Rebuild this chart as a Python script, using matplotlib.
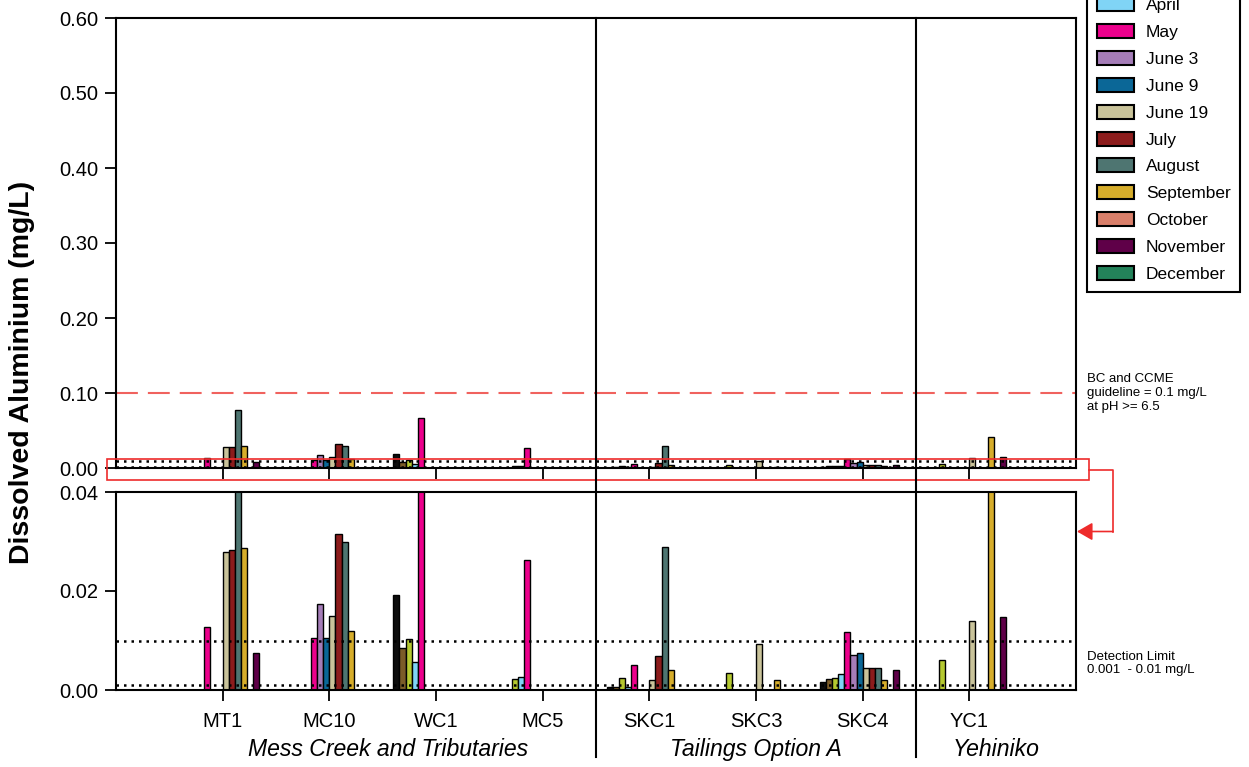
import numpy as np
import matplotlib
matplotlib.use('Agg')
from matplotlib import pyplot as plt
from matplotlib import transforms
from matplotlib.patches import Patch, Rectangle, FancyArrowPatch
from matplotlib.lines import Line2D

plt.rcParams['font.family'] = ['Liberation Sans', 'DejaVu Sans']

nan = np.nan

## Stations and sampling events ##
stations = ['MT1', 'MC10', 'WC1', 'MC5', 'SKC1', 'SKC3', 'SKC4', 'YC1']
events = ['January', 'February', 'March', 'April', 'May', 'June 3', 'June 9',
          'June 19', 'July', 'August', 'September', 'October', 'November', 'December']
colours = ['#0d0d0d', '#7b5c28', '#b5c930', '#80d4f6', '#ec008c', '#a57db8', '#0b6797',
           '#c9c39a', '#8c1c1c', '#4e7571', '#d6ad2b', '#d97f6a', '#5f0048', '#23825a']

# dissolved Al (mg/L) per event, one value per station (nan = not sampled)
jan   = [nan, nan, 0.0192, nan, 0.0006, nan, 0.0017, nan]
feb   = [nan, nan, 0.0085, nan, 0.0007, nan, 0.0022, nan]
mar   = [nan, nan, 0.0104, 0.0023, 0.0024, 0.0035, 0.0025, 0.0060]
apr   = [nan, nan, 0.0056, 0.0026, 0.0007, nan, 0.0032, nan]
may   = [0.0128, 0.0106, 0.067, 0.0262, 0.0050, nan, 0.0118, nan]
jun3  = [nan, 0.0173, nan, nan, nan, nan, 0.0070, nan]
jun9  = [nan, 0.0106, nan, nan, nan, nan, 0.0074, nan]
jun19 = [0.0279, 0.0149, nan, nan, 0.0020, 0.0093, 0.0045, 0.0139]
jul   = [0.0283, 0.0316, nan, nan, 0.0068, nan, 0.0045, nan]
aug   = [0.078, 0.0298, nan, nan, 0.0288, nan, 0.0044, nan]
sep   = [0.0287, 0.0119, nan, nan, 0.0041, 0.0020, 0.0021, 0.041]
octo  = [nan, nan, nan, nan, nan, nan, nan, nan]
nov   = [0.0074, nan, nan, nan, nan, nan, 0.0041, 0.0148]
dec   = [nan, nan, nan, nan, nan, nan, nan, nan]
series = [jan, feb, mar, apr, may, jun3, jun9, jun19, jul, aug, sep, octo, nov, dec]

guideline = 0.1
detect_lo, detect_hi = 0.001, 0.01

groups = ['Mess Creek and Tributaries', 'Tailings Option A', 'Yehiniko']
group_x = [2.55, 6.0, 8.25]
dividers = [4.5, 7.5]

W, H = 1249, 767
def fx(px):
    return px / W
def fy(py):
    return 1 - py / H

fig = plt.figure(figsize=(W / 100, H / 100), dpi=100)
ax_top = fig.add_axes([fx(116), fy(468), fx(1076) - fx(116), fy(18) - fy(468)])
ax_bot = fig.add_axes([fx(116), fy(690), fx(1076) - fx(116), fy(492) - fy(690)])

x = np.arange(1, len(stations) + 1)
bw = 0.8 / len(events)

for ax in (ax_top, ax_bot):
    for i, (vals, col) in enumerate(zip(series, colours)):
        ax.bar(x + (i - 6.5) * bw, vals, bw, color=col, edgecolor='k', linewidth=1.0, zorder=2)
    for lvl in (detect_lo, detect_hi):
        ax.axhline(lvl, color='k', lw=1.8, dashes=(1, 2), zorder=3)
    ax.set_xlim(0, 9)
    ax.set_xticks(x)
    for s in ax.spines.values():
        s.set_linewidth(1.5)
    ax.tick_params(axis='y', direction='out', length=8, width=1.3, labelsize=14.5, pad=5)
    ax.tick_params(axis='x', direction='out', length=8, width=1.3, labelsize=14.5, pad=8)

ax_top.axhline(guideline, color='#f0625e', lw=1.5, dashes=(10.5, 4.8), zorder=1)
ax_top.set_ylim(0, 0.6)
ax_top.set_yticks(np.arange(0, 0.61, 0.1))
ax_top.set_yticklabels(['%.2f' % v for v in np.arange(0, 0.61, 0.1)])
ax_top.set_xticklabels([])

ax_bot.set_ylim(0, 0.04)
ax_bot.set_yticks([0, 0.02, 0.04])
ax_bot.set_yticklabels(['0.00', '0.02', '0.04'])
ax_bot.set_xticklabels(stations)

# section dividers run through both panels and the labels below
blend = transforms.blended_transform_factory(ax_bot.transData, fig.transFigure)
for d in dividers:
    fig.add_artist(Line2D([d, d], [fy(757), fy(18)], transform=blend, color='k', lw=1.5))
for g, gx in zip(groups, group_x):
    fig.text(gx, fy(755.7), g, transform=blend, ha='center', va='baseline',
             fontsize=16.6, style='italic')

fig.text(fx(22), fy(372), 'Dissolved Aluminium (mg/L)', rotation=90, fontsize=20.5,
         fontweight='bold', ha='center', va='center')

fig.text(fx(1087), fy(393), 'BC and CCME\nguideline = 0.1 mg/L\nat pH >= 6.5',
         fontsize=9.5, ha='left', va='center', linespacing=1.25)
fig.text(fx(1087), fy(663.5), 'Detection Limit\n0.001  - 0.01 mg/L',
         fontsize=9.5, ha='left', va='center', linespacing=1.15)

# zoom callout from the upper panel to the lower one
red = '#ee2b2b'
fig.add_artist(Rectangle((fx(106.5), fy(480.5)), fx(1089) - fx(106.5), fy(458.5) - fy(480.5),
                         transform=fig.transFigure, fill=False, ec=red, lw=1.2))
fig.add_artist(Line2D([fx(1089), fx(1113), fx(1113)], [fy(470), fy(470), fy(531.5)],
                      transform=fig.transFigure, color=red, lw=1.2))
fig.add_artist(FancyArrowPatch((fx(1113), fy(531.5)), (fx(1077), fy(531.5)),
                               transform=fig.transFigure, color=red, lw=1.2,
                               arrowstyle='-|>,head_length=0.94,head_width=0.54',
                               mutation_scale=10, shrinkA=0, shrinkB=0))

handles = [Patch(facecolor=c, edgecolor='k', linewidth=1.5, label=e) for e, c in zip(events, colours)]
leg = fig.legend(handles=handles, loc='lower left', bbox_to_anchor=(fx(1087), fy(291.7)),
                 bbox_transform=fig.transFigure, borderaxespad=0, fancybox=False,
                 edgecolor='k', framealpha=1, fontsize=12.5, handlelength=2.15,
                 handleheight=0.86, handletextpad=0.7, labelspacing=0.63, borderpad=0.55)
leg.get_frame().set_linewidth(1.5)

fig.savefig('out.png', dpi=100)
